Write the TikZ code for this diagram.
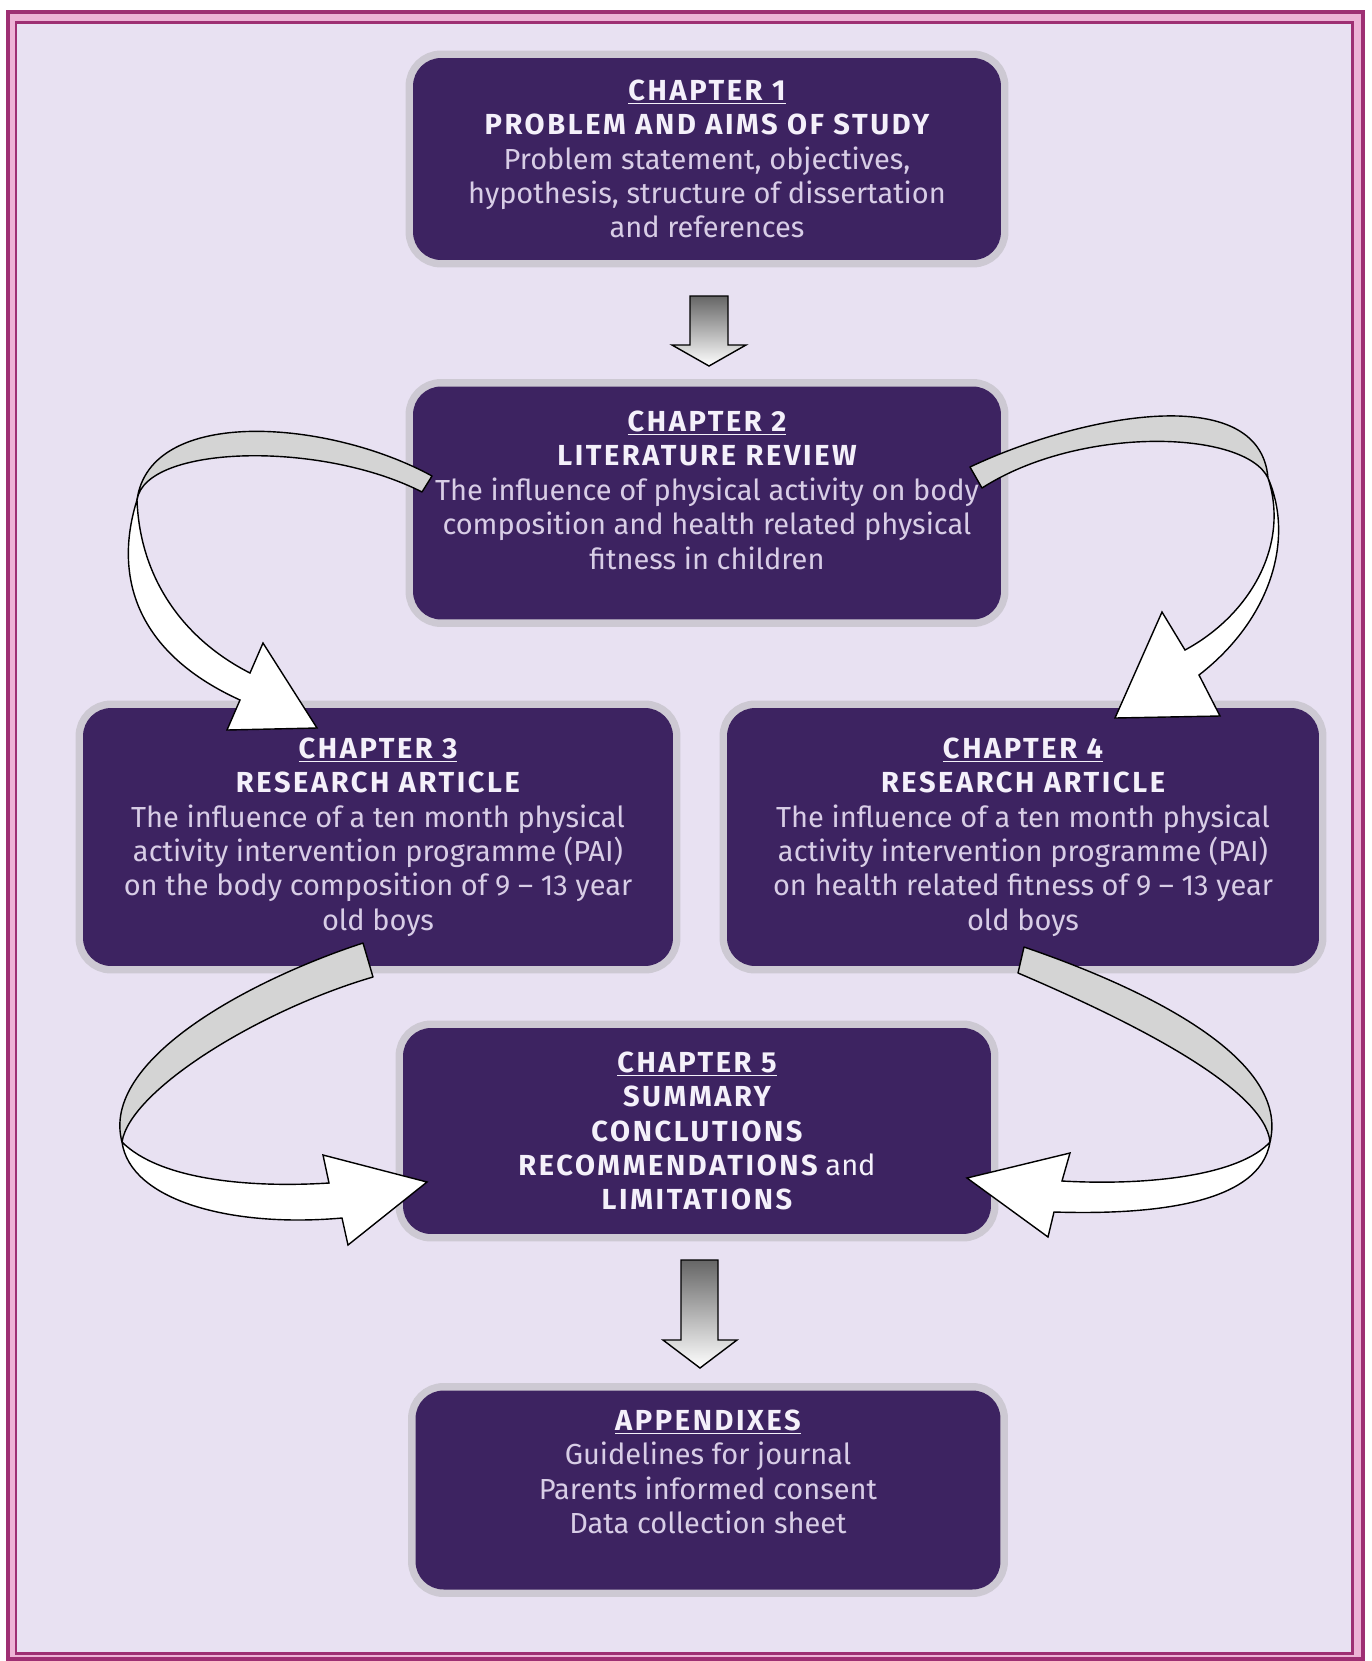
\documentclass[tikz,border=0pt]{standalone}
\usepackage{fontspec}
\setmainfont{Fira Sans}
\usepackage{tikz}

\definecolor{frameDark}{HTML}{9E2F73}
\definecolor{framePink}{HTML}{EDB3D6}
\definecolor{pageLav}{HTML}{E8E1F2}
\definecolor{boxPurple}{HTML}{3D2361}
\definecolor{haloGray}{HTML}{CDC9D3}
\definecolor{headText}{HTML}{F4F0FA}
\definecolor{bodyText}{HTML}{D8CDE6}
\definecolor{ribbonGray}{HTML}{D4D4D4}

\newcommand{\headline}[1]{{\bfseries\addfontfeatures{LetterSpace=9}\color{headText}#1}}
\newcommand{\chtitle}[1]{\headline{\underline{#1}}}

\tikzset{
	chapbox/.style={rectangle, rounded corners=0.56cm, fill=boxPurple,
		preaction={draw=haloGray, line width=0.3cm},
		text=bodyText, align=center, inner sep=0pt,
		font=\fontsize{16.5}{19.6}\selectfont},
	ribbonback/.style={fill=ribbonGray, draw=black, line width=0.8pt, line join=round},
	ribbonfront/.style={fill=white, draw=black, line width=0.8pt},
	downarrow/.style={draw=black, line width=0.8pt, top color=black!60, bottom color=white}
}

\begin{document}
\begin{tikzpicture}[x=0.02cm, y=-0.02cm]
	\useasboundingbox (0,0) rectangle (1372,1661);
	% Page and frame
	\fill[white] (0,0) rectangle (1372,1661);
	\draw[frameDark, line width=0.09cm, fill=framePink] (8,12) rectangle (1363,1659);
	\draw[frameDark, line width=0.06cm, fill=pageLav] (16,22) rectangle (1352,1653);

	% Chapters
	\node[chapbox, minimum width=11.76cm, minimum height=4.04cm] (ch1) at (707,159)
		{\chtitle{CHAPTER 1}\\ \headline{PROBLEM AND AIMS OF STUDY}\\
		Problem statement, objectives,\\
		hypothesis, structure of dissertation\\
		and references};
	\node[chapbox, minimum width=11.76cm, minimum height=4.66cm] (ch2) at (707,503)
		{\chtitle{CHAPTER 2}\\ \headline{LITERATURE REVIEW}\\
		The influence of physical activity on body\\
		composition and health related physical\\
		fitness in children\\[-4.8pt]\mbox{}};
	\node[chapbox, minimum width=11.8cm, minimum height=5.16cm] (ch3) at (378,837)
		{\chtitle{CHAPTER 3}\\ \headline{RESEARCH ARTICLE}\\
		The influence of a ten month physical\\
		activity intervention programme (PAI)\\
		on the body composition of 9 -- 13 year\\
		old boys};
	\node[chapbox, minimum width=11.84cm, minimum height=5.16cm] (ch4) at (1023,837)
		{\chtitle{CHAPTER 4}\\ \headline{RESEARCH ARTICLE}\\
		The influence of a ten month physical\\
		activity intervention programme (PAI)\\
		on health related fitness of 9 -- 13 year\\
		old boys};
	\node[chapbox, minimum width=11.76cm, minimum height=4.12cm] (ch5) at (697,1131)
		{\chtitle{CHAPTER 5}\\ \headline{SUMMARY}\\ \headline{CONCLUTIONS}\\
		\headline{RECOMMENDATIONS} {\color{headText}and}\\ \headline{LIMITATIONS}};
	\node[chapbox, minimum width=11.7cm, minimum height=3.98cm] (app) at (708,1490)
		{\chtitle{APPENDIXES}\\
		Guidelines for journal\\
		Parents informed consent\\
		Data collection sheet\\[1pt]\mbox{}};

	% Straight arrows
	\draw[downarrow] (690,296) -- (728,296) -- (728,345) -- (746,345) -- (709,366)
		-- (672,345) -- (690,345) -- cycle;
	\draw[downarrow] (681,1260) -- (718,1260) -- (718,1340) -- (737,1340) -- (700,1368)
		-- (663,1340) -- (681,1340) -- cycle;

	% Curved arrow: chapter 2 to chapter 3
	\filldraw[ribbonback] (432,476) .. controls (330,420) and (150,405) .. (137,500)
		.. controls (145,445) and (320,440) .. (422,492) -- cycle;
	\filldraw[ribbonfront] (137,500) .. controls (115,570) and (130,650) .. (240,700)
		-- (227,730) -- (317,728) -- (263,643) -- (250,673)
		.. controls (185,640) and (140,580) .. (137,500) -- cycle;
	% Curved arrow: chapter 2 to chapter 4
	\filldraw[ribbonback] (970,467) .. controls (1080,415) and (1260,380) .. (1268,478)
		.. controls (1245,430) and (1080,425) .. (982,488) -- cycle;
	\filldraw[ribbonfront] (1268,478) .. controls (1295,540) and (1270,620) .. (1199,675)
		-- (1220,716) -- (1115,718) -- (1162,612) -- (1185,650)
		.. controls (1250,615) and (1290,545) .. (1268,478) -- cycle;
	% Curved arrow: chapter 3 to chapter 5
	\filldraw[ribbonback] (363,943) .. controls (250,980) and (100,1060) .. (122,1142)
		.. controls (130,1090) and (260,1010) .. (373,977) -- cycle;
	\filldraw[ribbonfront] (122,1142) .. controls (130,1200) and (230,1228) .. (342,1218)
		-- (348,1245) -- (427,1182) -- (323,1155) -- (329,1183)
		.. controls (250,1188) and (160,1180) .. (122,1142) -- cycle;
	% Curved arrow: chapter 4 to chapter 5
	\filldraw[ribbonback] (1024,947) .. controls (1150,990) and (1290,1060) .. (1270,1142)
		.. controls (1265,1090) and (1140,1025) .. (1018,973) -- cycle;
	\filldraw[ribbonfront] (1270,1142) .. controls (1260,1205) and (1150,1215) .. (1054,1212)
		-- (1048,1237) -- (967,1178) -- (1070,1153) -- (1062,1181)
		.. controls (1150,1186) and (1240,1175) .. (1270,1142) -- cycle;
\end{tikzpicture}
\end{document}
